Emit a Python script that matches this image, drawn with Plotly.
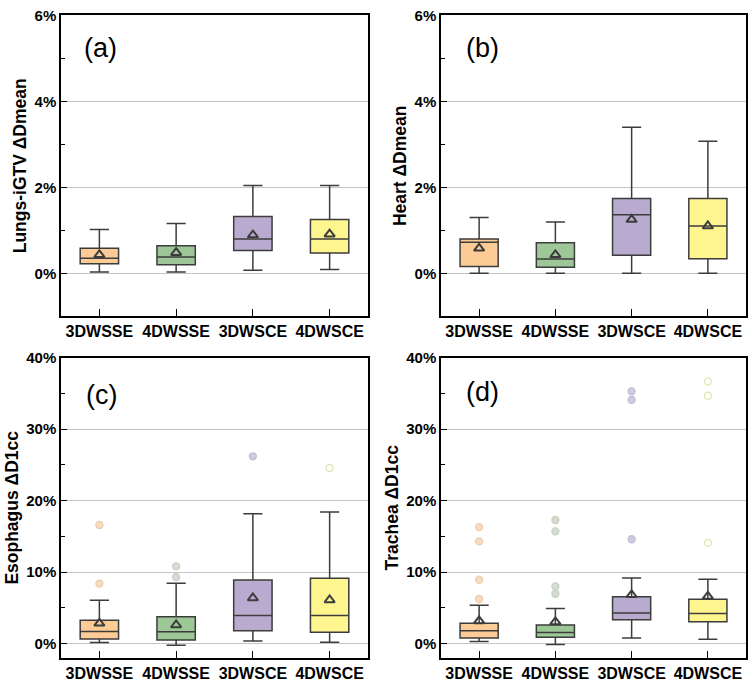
import plotly.graph_objects as go

categories = ["3DWSSE", "4DWSSE", "3DWSCE", "4DWSCE"]
panel_labels = ["(a)", "(b)", "(c)", "(d)"]
y_titles = ["Lungs-iGTV ΔDmean", "Heart ΔDmean", "Esophagus ΔD1cc", "Trachea ΔD1cc"]

# Panel (a) Lungs-iGTV ΔDmean (%)
a_low = [0.03, 0.03, 0.07, 0.09]
a_q1 = [0.22, 0.20, 0.53, 0.47]
a_med = [0.35, 0.38, 0.80, 0.80]
a_q3 = [0.58, 0.64, 1.32, 1.25]
a_high = [1.02, 1.16, 2.04, 2.04]
a_mean = [0.43, 0.48, 0.89, 0.91]
a_out = [[], [], [], []]

# Panel (b) Heart ΔDmean (%)
b_low = [0.0, 0.0, 0.0, 0.0]
b_q1 = [0.16, 0.14, 0.42, 0.34]
b_med = [0.72, 0.33, 1.36, 1.10]
b_q3 = [0.80, 0.71, 1.74, 1.74]
b_high = [1.30, 1.19, 3.40, 3.07]
b_mean = [0.58, 0.43, 1.25, 1.10]
b_out = [[], [], [], []]

# Panel (c) Esophagus ΔD1cc (%)
c_low = [0.14, -0.23, 0.37, 0.18]
c_q1 = [0.64, 0.50, 1.79, 1.60]
c_med = [1.70, 1.65, 3.94, 3.94]
c_q3 = [3.26, 3.76, 8.90, 9.13]
c_high = [6.06, 8.44, 18.17, 18.40]
c_mean = [2.84, 2.60, 6.38, 6.10]
c_out = [[8.4, 16.6], [9.3, 10.8], [26.2], [24.6]]

# Panel (d) Trachea ΔD1cc (%)
d_low = [0.28, -0.14, 0.78, 0.60]
d_q1 = [0.78, 0.87, 3.35, 3.07]
d_med = [1.79, 1.56, 4.27, 4.22]
d_q3 = [2.84, 2.61, 6.56, 6.19]
d_high = [5.37, 4.90, 9.17, 8.99]
d_mean = [3.17, 3.03, 6.83, 6.60]
d_out = [[6.24, 8.94, 14.3, 16.3], [6.97, 8.0, 15.7, 17.3], [14.6, 34.1, 35.3], [14.1, 34.7, 36.7]]

panels = [
    (a_low, a_q1, a_med, a_q3, a_high, a_mean, a_out),
    (b_low, b_q1, b_med, b_q3, b_high, b_mean, b_out),
    (c_low, c_q1, c_med, c_q3, c_high, c_mean, c_out),
    (d_low, d_q1, d_med, d_q3, d_high, d_mean, d_out),
]

box_fill = ["#FDCB95", "#9DC796", "#B9ABCF", "#FFF58F"]
out_fill = ["#F6DCC2", "#D5DCD1", "#CDCDE0", "#FFFFFF"]
out_line = ["#EDCCA8", "#C6CFC1", "#BDBDD6", "#E0E5AE"]
edge = "#3c3c3c"

x_domains = [[61 / 748, 368 / 748], [441 / 748, 746 / 748]] * 2
y_top = [1 - 312.75 / 682, 1 - 6.5 / 682]
y_bot = [1 - 660.5 / 682, 1 - 355 / 682]
y_domains = [y_top, y_top, y_bot, y_bot]
y_ranges = [[-1, 6], [-1, 6], [-2, 40], [-2, 40]]
y_dticks = [2, 2, 10, 10]

FONT = "Arial, Liberation Sans, sans-serif"
fig = go.Figure()
layout = dict(
    width=748, height=682,
    margin=dict(l=0, r=0, t=0, b=0),
    paper_bgcolor="white", plot_bgcolor="white",
    showlegend=False,
    font=dict(family=FONT, color="black"),
    annotations=[],
)

for i, (low, q1, med, q3, high, mean, outs) in enumerate(panels):
    n = i + 1
    xa = "x" if n == 1 else f"x{n}"
    ya = "y" if n == 1 else f"y{n}"
    for j, cat in enumerate(categories):
        fig.add_trace(go.Box(
            x=[cat], q1=[q1[j]], median=[med[j]], q3=[q3[j]],
            lowerfence=[low[j]], upperfence=[high[j]],
            fillcolor=box_fill[j], line=dict(color=edge, width=1.5),
            width=0.5, whiskerwidth=0.5, boxpoints=False,
            xaxis=xa, yaxis=ya, hoverinfo="skip",
        ))
        if outs[j]:
            fig.add_trace(go.Scatter(
                x=[cat] * len(outs[j]), y=outs[j], mode="markers",
                marker=dict(symbol="circle", size=7, color=out_fill[j],
                            line=dict(color=out_line[j], width=1.3)),
                xaxis=xa, yaxis=ya, hoverinfo="skip",
            ))
    fig.add_trace(go.Scatter(
        x=categories, y=mean, mode="markers",
        marker=dict(symbol="triangle-up-open", size=9, color=edge,
                    line=dict(color=edge, width=2)),
        xaxis=xa, yaxis=ya, hoverinfo="skip",
    ))
    xkey = "xaxis" if n == 1 else f"xaxis{n}"
    ykey = "yaxis" if n == 1 else f"yaxis{n}"
    layout[xkey] = dict(
        domain=x_domains[i], anchor=ya, type="category",
        categoryorder="array", categoryarray=categories,
        range=[-0.5, 3.5],
        showline=True, linecolor="black", linewidth=1.5, mirror=True,
        ticks="inside", ticklen=7, tickwidth=1.2, tickcolor="black",
        showgrid=False, zeroline=False,
        tickfont=dict(family=FONT, size=16, color="black", weight="bold"),
    )
    dt = y_dticks[i]
    layout[ykey] = dict(
        domain=y_domains[i], anchor=xa, range=y_ranges[i],
        dtick=dt, tick0=0, ticksuffix="%",
        showline=True, linecolor="black", linewidth=1.5, mirror=True,
        ticks="inside", ticklen=6, tickwidth=1.2, tickcolor="black",
        minor=dict(dtick=dt / 2, tick0=0, ticks="inside", ticklen=4, tickwidth=1.2, tickcolor="black", showgrid=False),
        showgrid=True, gridcolor="#C4C4C4", gridwidth=1, zeroline=False,
        tickfont=dict(family=FONT, size=15, color="black", weight="bold"),
        title=dict(text=y_titles[i], font=dict(family=FONT, size=17.5, color="black", weight="bold"), standoff=3),
    )
    cx = [100, 482, 102, 482][i]
    cy = [40, 40, 393, 390][i]
    layout["annotations"].append(dict(
        text=panel_labels[i], x=cx / 748, y=1 - cy / 682, xref="paper", yref="paper",
        showarrow=False, xanchor="center", yanchor="middle",
        font=dict(family=FONT, size=27, color="black"),
    ))

fig.update_layout(**layout)
fig.write_html("out.html")
